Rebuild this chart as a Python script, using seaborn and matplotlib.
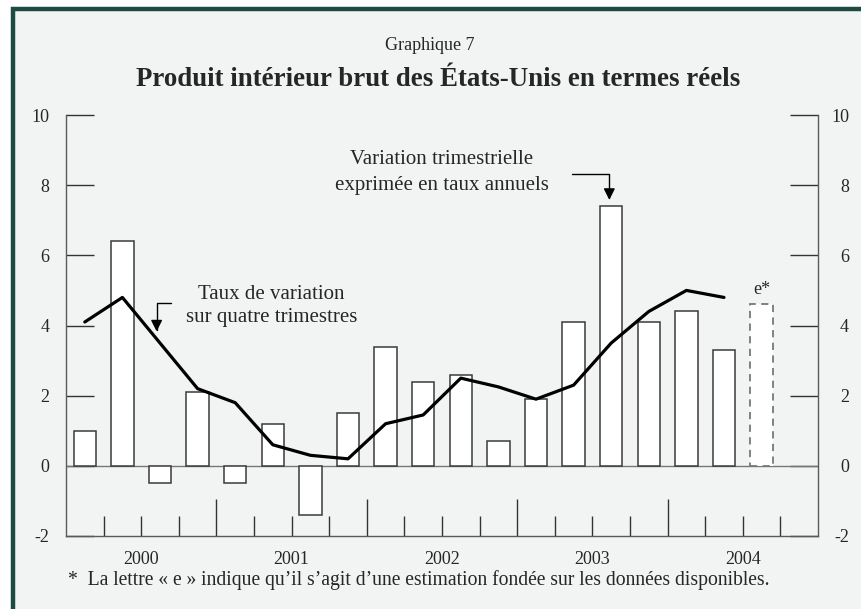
import numpy as np
import pandas as pd
import matplotlib
matplotlib.use("Agg")
import matplotlib.pyplot as plt
from matplotlib.patches import Rectangle
from matplotlib.transforms import ScaledTranslation
import seaborn as sns

# Données
trimestres = ["2000T1", "2000T2", "2000T3", "2000T4",
              "2001T1", "2001T2", "2001T3", "2001T4",
              "2002T1", "2002T2", "2002T3", "2002T4",
              "2003T1", "2003T2", "2003T3", "2003T4",
              "2004T1", "2004T2", "2004T3"]
variation_trim = [1.0, 6.4, -0.5, 2.1, -0.5, 1.2, -1.4, 1.5, 3.4, 2.4,
                  2.6, 0.7, 1.9, 4.1, 7.4, 4.1, 4.4, 3.3, 4.6]
variation_4t = [4.1, 4.8, 3.5, 2.2, 1.8, 0.6, 0.3, 0.2, 1.2, 1.45,
                2.5, 2.25, 1.9, 2.3, 3.5, 4.4, 5.0, 4.8]
annees = ["2000", "2001", "2002", "2003", "2004"]
yticks = [-2, 0, 2, 4, 6, 8, 10]

VERT = "#1f4a40"
FOND = "#f2f3f3"
GRIS = "#5a5a5a"

sns.set_theme(style="white")
plt.rcParams["font.family"] = ["Liberation Serif", "DejaVu Serif"]

fig = plt.figure(figsize=(8.61, 6.09), dpi=100)
fig.patch.set_facecolor("white")
# cadre vert (haut et gauche seulement visibles)
fig.patches.append(Rectangle((12.5 / 861, -0.2), 1.2, 1.2 - 9 / 609,
                             transform=fig.transFigure, facecolor=FOND,
                             edgecolor=VERT, linewidth=3.2, zorder=-10))

ax = fig.add_axes([66 / 861, 1 - 536 / 609, (818 - 66) / 861, (536 - 115) / 609])
ax.set_facecolor("none")
ax.set_zorder(5)

df = pd.DataFrame({"pos": np.arange(len(trimestres)), "trim": trimestres,
                   "val": variation_trim})
sns.barplot(data=df, x="pos", y="val", native_scale=True, orient="x",
            width=0.6, color="white", saturation=1, edgecolor="#3a3a3a",
            linewidth=1.1, ax=ax, zorder=2)
# dernière barre = estimation (tirets)
est = ax.patches[-1]
est.set_linestyle((0, (4, 3)))
est.set_edgecolor("#777777")
est.set_linewidth(1.3)

dl = pd.DataFrame({"pos": np.arange(len(variation_4t)), "val": variation_4t})
sns.lineplot(data=dl, x="pos", y="val", color="black", linewidth=2.3,
             ax=ax, zorder=3)

ax.axhline(0, color="#777777", linewidth=1.0, zorder=1)

ax.set_xlim(-0.5, 19.5)
ax.set_ylim(-2, 10)
ax.set_xlabel("")
ax.set_ylabel("")

for s in ["left", "right", "bottom"]:
    ax.spines[s].set_visible(True)
    ax.spines[s].set_color(GRIS)
    ax.spines[s].set_linewidth(1.0)
ax.spines["top"].set_visible(False)

# axe des y (gauche et droite)
ax.set_yticks(yticks)
ax.set_yticklabels([str(v) for v in yticks])
ax.tick_params(axis="y", which="major", direction="in", length=20, width=1.0,
               color="#333333", left=True, right=True, labelleft=True,
               labelright=True, labelsize=13, pad=12)
decal = ScaledTranslation(31 / 100, 0, fig.dpi_scale_trans)
for tk in ax.yaxis.get_major_ticks():
    tk.label2.set_horizontalalignment("right")
    tk.label2.set_transform(ax.get_yaxis_transform(which="tick2") + decal)

# axe des x : traits trimestriels et annuels
n_trim = 4 * len(annees)
bornes = np.arange(1, n_trim) - 0.5
bornes_annee = [b for i, b in enumerate(bornes, start=1) if i % 4 == 0]
bornes_trim = [b for i, b in enumerate(bornes, start=1) if i % 4 != 0]
ax.set_xticks(bornes_annee)
ax.set_xticks(bornes_trim, minor=True)
ax.tick_params(axis="x", which="major", direction="in", length=27, width=1.0,
               color="#333333", labelbottom=False, bottom=True)
ax.tick_params(axis="x", which="minor", direction="in", length=14.5, width=1.0,
               color="#333333", bottom=True)
centres = [4 * i + 1.5 for i in range(len(annees))]
for c, a in zip(centres, annees):
    ax.text(c, -0.035, a, transform=ax.get_xaxis_transform(), ha="center",
            va="top", fontsize=13)

# annotations
fleche = dict(arrowstyle="-|>", color="black", lw=1.0,
              connectionstyle="angle,angleA=0,angleB=90,rad=0",
              shrinkA=0, shrinkB=0, mutation_scale=17)
ax.text(4.97, 4.545, "Taux de variation\nsur quatre trimestres", ha="center",
        va="center", fontsize=15, linespacing=1.3)
ax.annotate("", xy=(1.91, 3.83), xytext=(2.28, 4.64), arrowprops=fleche)
ax.text(9.5, 8.37, "Variation trimestrielle\nexprimée en taux annuels",
        ha="center", va="center", fontsize=15, linespacing=1.5)
ax.annotate("", xy=(13.95, 7.58), xytext=(12.97, 8.31), arrowprops=fleche)
ax.text(18, 5.04, "e*", ha="center", va="center", fontsize=13)

# titres et note
fig.text(430 / 861, 1 - 45 / 609, "Graphique 7", ha="center", va="center",
         fontsize=13)
fig.text(438 / 861, 1 - 80 / 609,
         "Produit intérieur brut des États-Unis en termes réels",
         ha="center", va="center", fontsize=19.4, fontweight="bold")
fig.text(68 / 861, 1 - 580 / 609,
         "*  La lettre « e » indique qu’il s’agit d’une estimation fondée sur les données disponibles.",
         ha="left", va="center", fontsize=14.15)

fig.savefig("out.png", dpi=100, facecolor=fig.get_facecolor())
